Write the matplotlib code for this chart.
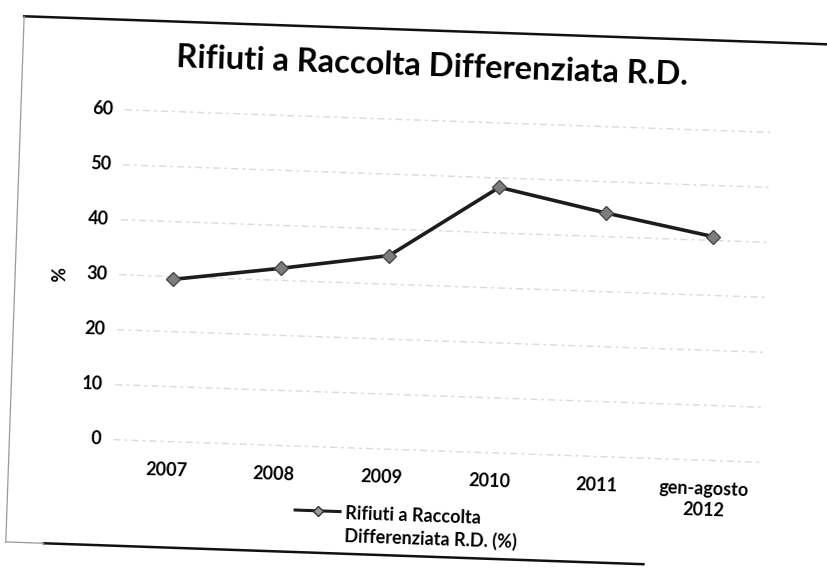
import matplotlib
matplotlib.use("Agg")
import matplotlib.pyplot as plt
import matplotlib.transforms as mtransforms
from matplotlib.lines import Line2D

# ---- data ----
categories = ["2007", "2008", "2009", "2010", "2011", "gen-agosto\n2012"]
values = [29.5, 32.2, 35.2, 48.3, 44.3, 40.7]
y_ticks = [0, 10, 20, 30, 40, 50, 60]
title = "Rifiuti a Raccolta Differenziata R.D."
series_label = "Rifiuti a Raccolta\nDifferenziata R.D. (%)"
y_label = "%"

W, H, DPI = 827, 571, 100
FONT = ["Lato", "DejaVu Sans"]

fig = plt.figure(figsize=(W / DPI, H / DPI), dpi=DPI)
fig.patch.set_facecolor("white")

# scanned page is slightly tilted clockwise
rot = mtransforms.Affine2D().rotate_deg_around(413, H - 285, -2.0)
TILT = -2.0

ax = fig.add_axes([119 / W, (H - 450) / H, (765 - 119) / W, (450 - 120) / H])
ax.set_axis_off()
ax.set_xlim(-0.5, len(categories) - 0.5)
ax.set_ylim(y_ticks[0], y_ticks[-1])

tdata = ax.transData + rot

# gridlines (faint, broken like the scan)
for v in y_ticks:
    ax.plot(ax.get_xlim(), [v, v], transform=tdata, color="#dadada",
            lw=1.0, ls=(0, (5, 3, 2, 3)), clip_on=False, zorder=1)

# y tick labels
ylab_tr = ax.transData + mtransforms.Affine2D().translate(-12, 0) + rot
for v in y_ticks:
    ax.text(ax.get_xlim()[0], v, str(v), transform=ylab_tr, ha="right",
            va="center", fontsize=13, fontweight="bold", family=FONT,
            rotation=TILT, rotation_mode="anchor", clip_on=False)

# x tick labels
xlab_tr = ax.transData + mtransforms.Affine2D().translate(0, -20) + rot
for i, c in enumerate(categories):
    ax.text(i, y_ticks[0], c, transform=xlab_tr, ha="center", va="top",
            fontsize=13, fontweight="bold", family=FONT, linespacing=1.3,
            rotation=TILT, rotation_mode="anchor", clip_on=False)

# data line
xs = list(range(len(categories)))
ax.plot(xs, values, transform=tdata, color="#1c1c1c", lw=2.6,
        marker="D", markersize=7.5, markerfacecolor="#7d7d7d",
        markeredgecolor="#4a4a4a", markeredgewidth=1.0,
        clip_on=False, zorder=3)

# y axis title
fig.text(60, H - 287, y_label, transform=rot, rotation=90 + TILT,
         rotation_mode="anchor", ha="center", va="center", fontsize=13,
         fontweight="bold", family=FONT)

# chart title
fig.text(425, H - 66, title, transform=rot, rotation=TILT,
         rotation_mode="anchor", ha="center", va="center", fontsize=23.5,
         fontweight="bold", family=FONT)

# legend (manual)
leg_y = H - 514
fig.add_artist(Line2D([303, 348], [leg_y, leg_y], transform=rot,
                      color="#1c1c1c", lw=2.2))
fig.add_artist(Line2D([325.5], [leg_y], transform=rot, marker="D",
                      markersize=5, markerfacecolor="#9a9a9a",
                      markeredgecolor="#333333", markeredgewidth=1.0))
fig.text(353, H - 527, series_label, transform=rot, rotation=TILT,
         rotation_mode="anchor", ha="left", va="center", fontsize=13,
         fontweight="bold", family=FONT, linespacing=1.35,
         multialignment="left")

# chart frame (scanned border)
fr_l, fr_t, fr_b, fr_r, fr_br = 15, 30, 556, 1000, 653
fig.add_artist(Line2D([fr_l, fr_r], [H - fr_t, H - fr_t], transform=rot,
                      color="#111111", lw=1.8))
fig.add_artist(Line2D([fr_l + 38, fr_br], [H - fr_b, H - fr_b], transform=rot,
                      color="#111111", lw=1.8))
fig.add_artist(Line2D([fr_l, fr_l + 38], [H - fr_b, H - fr_b], transform=rot,
                      color="#9a9a9a", lw=0.9))
fig.add_artist(Line2D([fr_l, fr_l], [H - fr_t, H - fr_b], transform=rot,
                      color="#9a9a9a", lw=0.9))

fig.savefig("out.png", dpi=DPI, facecolor="white")
